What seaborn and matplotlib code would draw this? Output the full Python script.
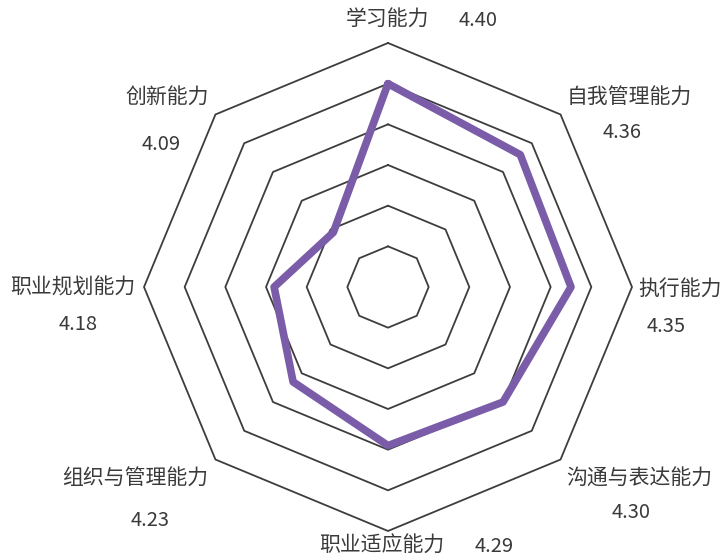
import numpy as np
import matplotlib
matplotlib.use("Agg")
import matplotlib.pyplot as plt
import seaborn as sns

# data
abilities = ["学习能力", "自我管理能力", "执行能力", "沟通与表达能力",
             "职业适应能力", "组织与管理能力", "职业规划能力", "创新能力"]
scores = [4.40, 4.36, 4.35, 4.30, 4.29, 4.23, 4.18, 4.09]
ring_levels = [4.0, 4.1, 4.2, 4.3, 4.4, 4.5]
r_min, r_max = 3.9, 4.5

# label layout (pixel centres from top-left): name xy, value xy
label_pos = [
    ((387, 20), (478, 20)),
    ((629, 98), (622, 133)),
    ((680, 290), (666, 327)),
    ((639, 479), (631, 513)),
    ((382, 546), (494, 546)),
    ((135, 479), (150, 520)),
    ((73, 288), (78, 325)),
    ((167, 98), (161, 144)),
]

sns.set_theme(style="white")
plt.rcParams['font.family'] = ['Noto Sans CJK SC', 'DejaVu Sans']

W, H = 725, 560
fig = plt.figure(figsize=(W / 100, H / 100), dpi=100)
fig.patch.set_facecolor('white')

# polar axes centred at (388, 287), radius 244 px
cx, cy, rad = 388, 287, 244
ax = fig.add_axes([(cx - rad) / W, (H - cy - rad) / H, 2 * rad / W, 2 * rad / H],
                  projection='polar')
ax.set_theta_zero_location('N')
ax.set_theta_direction(-1)

theta = np.linspace(0, 2 * np.pi, len(abilities), endpoint=False)
theta_c = np.append(theta, theta[0])

for lv in ring_levels:
    ax.plot(theta_c, [lv] * len(theta_c), color='#3d3d3d', lw=1.3,
            zorder=1, clip_on=False)

sns.lineplot(x=theta_c, y=np.append(scores, scores[0]), sort=False,
             estimator=None, ax=ax, color='#7a5ca8', lw=5.5, zorder=3)

ax.set_ylim(r_min, r_max)
ax.grid(False)
ax.set_xticks([])
ax.set_yticks([])
ax.set_xlabel('')
ax.set_ylabel('')
ax.spines['polar'].set_visible(False)

txt_color = '#3a3a3a'
for name, val, (npos, vpos) in zip(abilities, scores, label_pos):
    fig.text(npos[0] / W, 1 - npos[1] / H, name, ha='center', va='center',
             fontsize=15, color=txt_color)
    fig.text(vpos[0] / W, 1 - vpos[1] / H, f"{val:.2f}", ha='center',
             va='center', fontsize=14.5, color=txt_color)

fig.savefig("out.png", dpi=100, facecolor='white')
